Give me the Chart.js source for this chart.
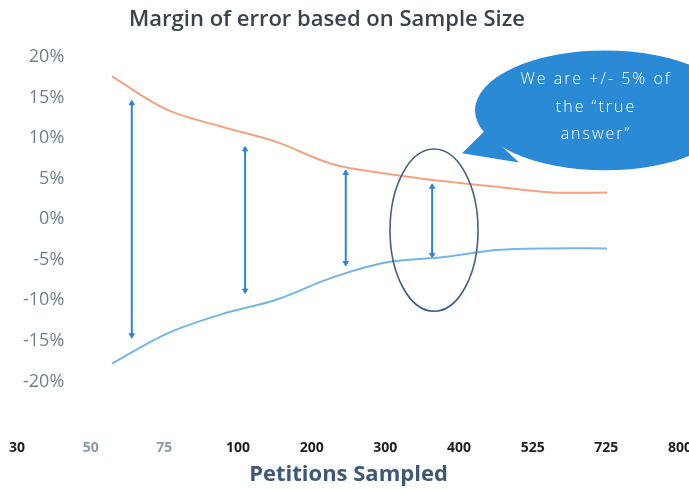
<!DOCTYPE html>
<html>
<head>
<meta charset="utf-8">
<script src="https://cdn.jsdelivr.net/npm/chart.js@4.4.1/dist/chart.umd.min.js"></script>
<style>
  html, body { margin: 0; padding: 0; background: #ffffff; }
  #wrap { width: 689px; height: 489px; }
</style>
</head>
<body>
<div id="wrap"><canvas id="chart" width="689" height="489"></canvas></div>
<script>
// Sample sizes shown along the bottom
const sampleSizes = ['30', '50', '75', '100', '200', '300', '400', '525', '725', '800'];
// Upper and lower margin of error (%) for each sample size
const upperMargin = [17.6, 13.5, 11.4, 9.5, 6.8, 5.6, 4.7, 4.0, 3.3, 3.3];
const lowerMargin = [-17.8, -14.1, -11.7, -9.9, -7.2, -5.3, -4.7, -3.8, -3.6, -3.6];
// Y axis tick values (%)
const yTicks = [20, 15, 10, 5, 0, -5, -10, -15, -20];
// Double-headed arrows: position along the sample index and their ends (%)
const arrowPos = [0.36, 2.42, 4.25, 5.82];
const arrowTop = [14.3, 8.6, 5.7, 4.0];
const arrowBottom = [-14.3, -8.8, -5.4, -4.4];
// Callout text
const calloutLines = ['We are +/- 5% of', 'the \u201ctrue', 'answer\u201d'];

const titleText = 'Margin of error based on Sample Size';
const tickColors = ['#1e1e1e', '#8a9aab', '#8a9aab', '#1e1e1e', '#1e1e1e', '#1e1e1e', '#1e1e1e', '#1e1e1e', '#1e1e1e', '#1e1e1e'];

const lineData = (vals) => vals.map((v, i) => ({ x: i, y: v }));

const arrowSets = arrowPos.map((p, i) => ({
  data: [{ x: p, y: arrowTop[i] }, { x: p, y: arrowBottom[i] }],
  borderColor: '#2f86cf',
  backgroundColor: '#2f86cf',
  borderWidth: 2,
  pointStyle: 'triangle',
  pointRadius: 3,
  pointRotation: [0, 180],
  pointBorderWidth: 1,
  tension: 0,
  xAxisID: 'x',
  yAxisID: 'y'
}));

// Ring around the region near 400 samples, and the speech bubble
const focusRing = { x: 5.855, y: -1.35, rx: 0.8, ry: 10 };
const bubble = {
  x: 8.964, y: 13.42, rx: 2.364, ry: 7.39,
  tail: [[6.364, 8.13], [6.78, 10.9], [7.40, 7.0]],
  textX: 8.8, textY: [17.24, 13.79, 10.47]
};

const annotations = {
  id: 'annotations',
  afterDatasetsDraw(chart) {
    const { ctx } = chart;
    const xs = chart.scales.x, ys = chart.scales.y;
    const cx = xs.getPixelForValue(focusRing.x);
    const cy = ys.getPixelForValue(focusRing.y);
    const rx = Math.abs(xs.getPixelForValue(focusRing.x + focusRing.rx) - cx);
    const ry = Math.abs(ys.getPixelForValue(focusRing.y + focusRing.ry) - cy);
    ctx.save();
    ctx.beginPath();
    ctx.ellipse(cx, cy, rx, ry, 0, 0, Math.PI * 2);
    ctx.strokeStyle = '#40618a';
    ctx.lineWidth = 1.6;
    ctx.stroke();
    ctx.restore();
  },
  afterDraw(chart) {
    const { ctx } = chart;
    const xs = chart.scales.x, ys = chart.scales.y;
    const px = (v) => xs.getPixelForValue(v);
    const py = (v) => ys.getPixelForValue(v);
    ctx.save();
    // speech bubble
    const bx = px(bubble.x), by = py(bubble.y);
    const brx = Math.abs(px(bubble.x + bubble.rx) - bx);
    const bry = Math.abs(py(bubble.y + bubble.ry) - by);
    ctx.fillStyle = '#2b8ad6';
    ctx.beginPath();
    ctx.ellipse(bx, by, brx, bry, 0, 0, Math.PI * 2);
    ctx.fill();
    ctx.beginPath();
    ctx.moveTo(px(bubble.tail[0][0]), py(bubble.tail[0][1]));
    ctx.lineTo(px(bubble.tail[1][0]), py(bubble.tail[1][1]));
    ctx.lineTo(px(bubble.tail[2][0]), py(bubble.tail[2][1]));
    ctx.closePath();
    ctx.fill();
    ctx.fillStyle = '#ffffff';
    ctx.font = '300 16px "Open Sans"';
    ctx.textAlign = 'center';
    ctx.textBaseline = 'middle';
    if ('letterSpacing' in ctx) ctx.letterSpacing = '2px';
    calloutLines.forEach((t, i) => ctx.fillText(t, px(bubble.textX), py(bubble.textY[i])));
    if ('letterSpacing' in ctx) ctx.letterSpacing = '0px';
    // chart title
    ctx.fillStyle = '#38434e';
    ctx.font = '600 22px "Open Sans"';
    ctx.textAlign = 'center';
    ctx.textBaseline = 'middle';
    ctx.fillText(titleText, 327, 20);
    ctx.restore();
  }
};

new Chart(document.getElementById('chart'), {
  type: 'line',
  data: {
    labels: sampleSizes,
    datasets: [
      {
        data: lineData(upperMargin),
        borderColor: '#f4a37f',
        borderWidth: 2,
        pointRadius: 0,
        tension: 0.35,
        xAxisID: 'x',
        yAxisID: 'y'
      },
      {
        data: lineData(lowerMargin),
        borderColor: '#74b6e8',
        borderWidth: 2,
        pointRadius: 0,
        tension: 0.35,
        xAxisID: 'x',
        yAxisID: 'y'
      },
      ...arrowSets
    ]
  },
  options: {
    responsive: false,
    animation: false,
    devicePixelRatio: 1,
    layout: { padding: { left: 17, right: 9, top: 57, bottom: 0 } },
    plugins: {
      legend: { display: false },
      tooltip: { enabled: false },
      title: { display: false }
    },
    scales: {
      x: {
        type: 'linear',
        display: false,
        min: -1.727,
        max: 10.327
      },
      xl: {
        type: 'category',
        position: 'bottom',
        offset: false,
        grid: { display: false, drawTicks: false },
        border: { display: false },
        ticks: {
          padding: 58,
          maxRotation: 0,
          autoSkip: false,
          font: { family: '"Open Sans"', size: 14, weight: 'bold' },
          color: (c) => tickColors[c.index]
        },
        title: {
          display: true,
          text: 'Petitions Sampled',
          color: '#3e5878',
          font: { family: '"Open Sans"', size: 22, weight: 'bold' },
          padding: { top: 5, bottom: 1 }
        },
        afterFit(scale) {
          scale.paddingLeft = 0;
          scale.paddingRight = 0;
          scale.height = 107.6;
        }
      },
      y: {
        type: 'linear',
        position: 'left',
        min: -20,
        max: 20,
        grid: { display: false, drawTicks: false },
        border: { display: false },
        afterBuildTicks(scale) { scale.ticks = yTicks.map(v => ({ value: v })); },
        ticks: {
          mirror: true,
          crossAlign: 'far',
          padding: 6,
          font: { family: '"Open Sans"', size: 18 },
          color: '#6e7f90',
          callback: (v) => v + '%'
        },
        afterFit(scale) { scale.width = 0; }
      }
    }
  },
  plugins: [annotations]
});
</script>
</body>
</html>
